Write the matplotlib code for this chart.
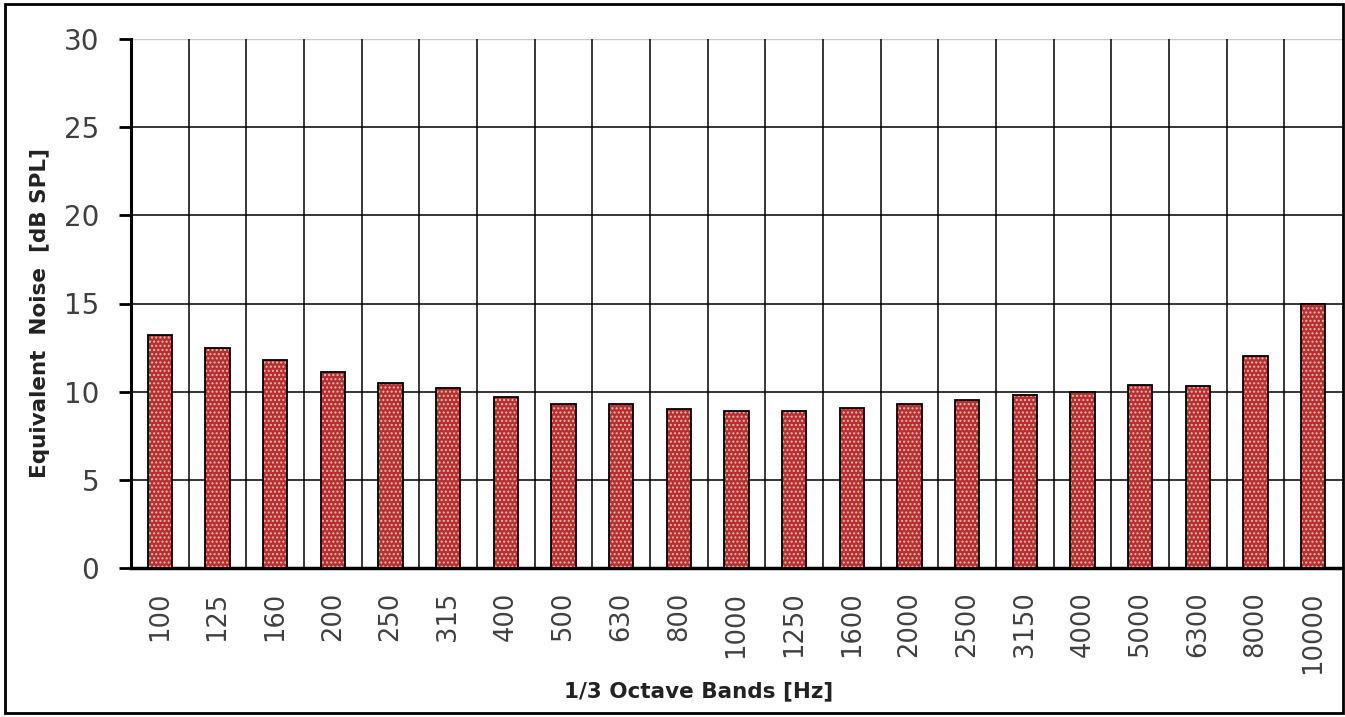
import matplotlib.pyplot as plt
import numpy as np
from matplotlib.patches import Rectangle

# 1/3 octave band centre frequencies and equivalent noise levels
bands = ["100", "125", "160", "200", "250", "315", "400", "500", "630", "800",
         "1000", "1250", "1600", "2000", "2500", "3150", "4000", "5000", "6300",
         "8000", "10000"]
noise_db = [13.2, 12.5, 11.8, 11.1, 10.5, 10.2, 9.7, 9.3, 9.3, 9.0,
            8.9, 8.9, 9.1, 9.3, 9.5, 9.8, 10.0, 10.4, 10.3, 12.0, 15.0]
y_ticks = [0, 5, 10, 15, 20, 25, 30]

BAR_RED = "#b5302f"
TEXT_COL = "#404040"

fig = plt.figure(figsize=(13.45, 7.17), dpi=100)
ax = fig.add_axes([131 / 1345, 1 - 568 / 717, (1342 - 131) / 1345, (568 - 39) / 717])

x = np.arange(len(bands))
# dotted red fill, then black outline on top
ax.bar(x, noise_db, width=0.42, color=BAR_RED, edgecolor="#e8b4b4",
       hatch="....", linewidth=0, zorder=3)
ax.bar(x, noise_db, width=0.42, facecolor="none", edgecolor="black",
       linewidth=1.3, zorder=4)

ax.set_xlim(-0.5, len(bands) - 0.5)
ax.set_ylim(0, 30)
ax.set_yticks(y_ticks)
ax.set_yticklabels([str(v) for v in y_ticks])
ax.set_xticks(x)
ax.set_xticklabels(bands, rotation=90)

# grid: horizontal at major y ticks, vertical at category boundaries
ax.set_xticks(np.arange(0.5, len(bands) - 0.5), minor=True)
ax.grid(axis="x", which="minor", color="black", linewidth=1.1, zorder=1)
for v in y_ticks[1:-1]:
    ax.axhline(v, color="black", linewidth=1.1, zorder=1)
ax.axhline(30, color="#c8c8c8", linewidth=1.0, zorder=1)
ax.tick_params(axis="x", which="both", length=0, pad=17, labelsize=18.5,
               labelcolor=TEXT_COL)
ax.tick_params(axis="y", length=9, width=2, pad=14, labelsize=20,
               labelcolor=TEXT_COL, direction="out")

for side in ["top", "right"]:
    ax.spines[side].set_visible(False)
ax.spines["left"].set_linewidth(2.2)
ax.spines["bottom"].set_linewidth(2.5)

fig.text(699 / 1345, 1 - 691 / 717, "1/3 Octave Bands [Hz]", ha="center",
         va="center", fontsize=15.5, fontweight="bold", color="#222222")
fig.text(40 / 1345, 1 - 313 / 717, "Equivalent  Noise  [dB SPL]", ha="center",
         va="center", rotation=90, fontsize=15.5, fontweight="bold",
         color="#222222")

# outer frame around the whole picture
fig.patches.append(Rectangle((5 / 1345, 4 / 717), 1338 / 1345, 709 / 717,
                             transform=fig.transFigure, fill=False,
                             edgecolor="black", linewidth=2))

fig.savefig("out.png", dpi=100)
